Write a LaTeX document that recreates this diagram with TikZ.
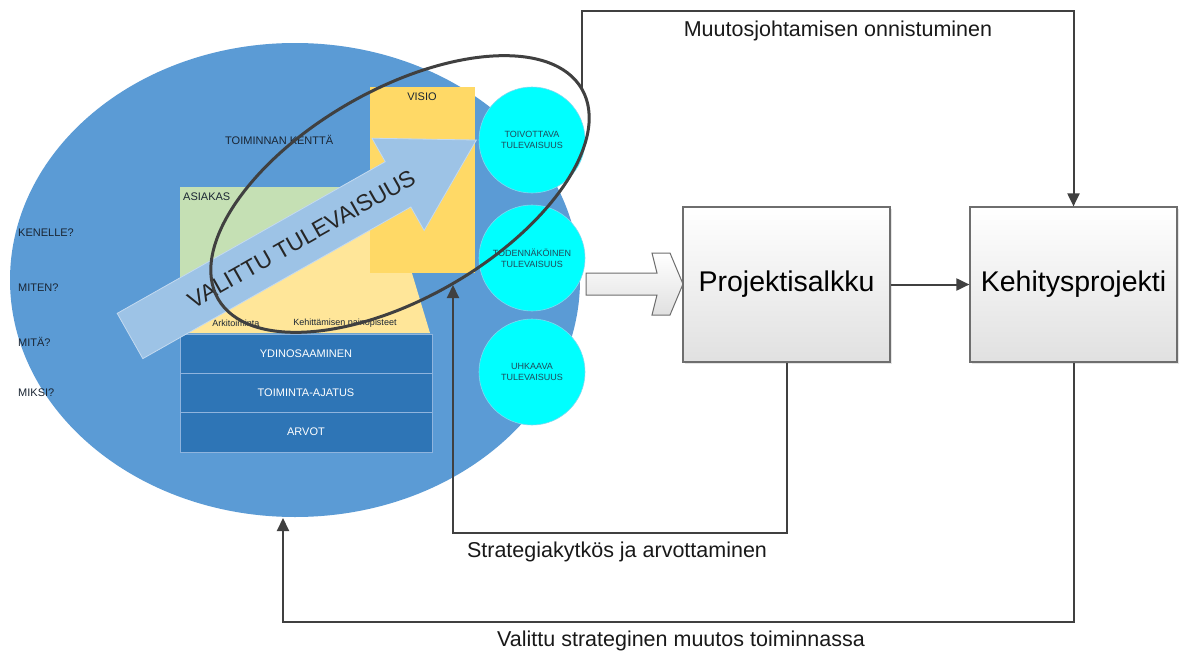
\documentclass[tikz,border=0pt]{standalone}
\usepackage{fontspec}
\setmainfont{Liberation Sans}
\usetikzlibrary{arrows.meta,shadows,calc}

\definecolor{bigblue}{HTML}{5B9BD5}
\definecolor{barblue}{HTML}{2E75B6}
\definecolor{barline}{HTML}{8FB4DE}
\definecolor{lgreen}{HTML}{C5E0B4}
\definecolor{lyellow}{HTML}{FFE699}
\definecolor{visioy}{HTML}{FFD966}
\definecolor{arrblue}{HTML}{9DC3E6}
\definecolor{arredge}{HTML}{C4DAF0}
\definecolor{cyanc}{HTML}{00FFFF}
\definecolor{cyanedge}{HTML}{7FD8F0}
\definecolor{lineg}{HTML}{404040}
\definecolor{boxborder}{HTML}{6E6E6E}
\definecolor{darktxt}{HTML}{1A2533}
\definecolor{circtxt}{HTML}{1F4A5A}

\newcommand{\setfs}[1]{\fontsize{#1}{#1}\selectfont}

\begin{document}
\begin{tikzpicture}[x=1pt,y=-1pt,
  conn/.style={draw=lineg, line width=2pt, -{Triangle[length=13pt,width=12pt]}},
  probox/.style={draw=boxborder, line width=1.2pt, top color=white, bottom color=black!12,
    minimum width=207pt, minimum height=155pt, inner sep=0pt, font=\setfs{28.5},
    drop shadow={opacity=0.2,shadow xshift=2pt,shadow yshift=-2pt}},
  circ/.style={circle, fill=cyanc, draw=cyanedge, line width=0.6pt, minimum size=106pt,
    inner sep=0pt, align=center, font=\fontsize{9}{11}\selectfont, text=circtxt},
  barbox/.style={draw=barline, line width=0.8pt, fill=barblue, minimum width=252pt,
    minimum height=39pt, inner sep=0pt, text=white, font=\setfs{11}},
  smalltxt/.style={font=\setfs{11}, text=darktxt, inner sep=0pt},
  tinytxt/.style={font=\setfs{9}, text=darktxt, inner sep=0pt},
  lbl/.style={font=\setfs{21.5}, text=black!90, inner sep=0pt, anchor=base},
]
\useasboundingbox (0,0) rectangle (1184,653);
\fill[white] (0,0) rectangle (1184,653);

% big field ellipse
\fill[bigblue] (295,280) ellipse [x radius=285pt, y radius=237pt];

% pyramid parts
\fill[lyellow] (180,187) -- (386,187) -- (430,333) -- (180,333) -- cycle;
\fill[lgreen] (180,187) -- (350,187) -- (180,285) -- cycle;
\fill[visioy] (370,87) rectangle (475,273);

\node[barbox] (ydin) at (306,353.5) {YDINOSAAMINEN};
\node[barbox] (toim) at (306,392.5) {TOIMINTA-AJATUS};
\node[barbox, minimum height=40pt] (arvot) at (306,432) {ARVOT};

% labels inside
\node[smalltxt, anchor=west] (kenelle) at (18,233) {KENELLE?};
\node[smalltxt, anchor=west] (miten) at (18,288) {MITEN?};
\node[smalltxt, anchor=west] (mita) at (18,342) {MITÄ?};
\node[smalltxt, anchor=west] (miksi) at (18,393) {MIKSI?};
\node[smalltxt, anchor=west] (kentta) at (225,140) {TOIMINNAN KENTTÄ};
\node[smalltxt, anchor=west] (asiakas) at (183,197) {ASIAKAS};
\node[smalltxt] (visio) at (422,97) {VISIO};
\node[tinytxt] (arki) at (236,323) {Arkitoiminta};
\node[tinytxt] (paino) at (345,323) {Kehittämisen painopisteet};

% big arrow
\begin{scope}[shift={(130,336)}, rotate=29.5]
  \filldraw[fill=arrblue, draw=arredge, line width=0.8pt]
    (0,-26) -- (308,-26) -- (308,-53) -- (398,0) -- (308,53) -- (308,26) -- (0,26) -- cycle;
  \node[rotate=29.5, font=\setfs{23}, text=black!85, inner sep=0pt] (valittu) at (197,0) {VALITTU TULEVAISUUS};
\end{scope}

% future circles
\node[circ] (c1) at (532,140) {TOIVOTTAVA\\TULEVAISUUS};
\node[circ] (c2) at (532,258) {TODENNÄKÖINEN\\TULEVAISUUS};
\node[circ] (c3) at (532,372) {UHKAAVA\\TULEVAISUUS};

% chosen-future ring
\draw[lineg, line width=3pt, rotate around={30:(400,194)}] (400,194) ellipse [x radius=210pt, y radius=104pt];

% block arrow
\path[draw=boxborder, line width=1pt, top color=white, bottom color=black!12]
  (586,273) -- (657,273) -- (652,253) -- (670,253) -- (683,284) -- (670,315) -- (652,315) -- (657,295) -- (586,295) -- cycle;

% boxes
\node[probox] (P) at (786.5,284.5) {Projektisalkku};
\node[probox] (K) at (1073.5,284.5) {Kehitysprojekti};

% connectors
\coordinate (tstart) at (582,88);
\coordinate (toprow) at (0,11);
\coordinate (e1) at (453,285);
\coordinate (r1) at (453,533);
\coordinate (e2) at (283,518);
\coordinate (r2) at (283,622);

\draw[conn] (P.east) -- (K.west);
\draw[conn] (tstart) |- (toprow -| K.north) -- (K.north);
\draw[conn] (P.south) |- (r1) -- (e1);
\draw[conn] (K.south) |- (r2) -- (e2);

% connector labels
\node[lbl] (l1) at (838,36.7) {Muutosjohtamisen onnistuminen};
\node[lbl] (l2) at (617,557) {Strategiakytkös ja arvottaminen};
\node[lbl] (l3) at (681,646) {Valittu strateginen muutos toiminnassa};
\end{tikzpicture}
\end{document}
